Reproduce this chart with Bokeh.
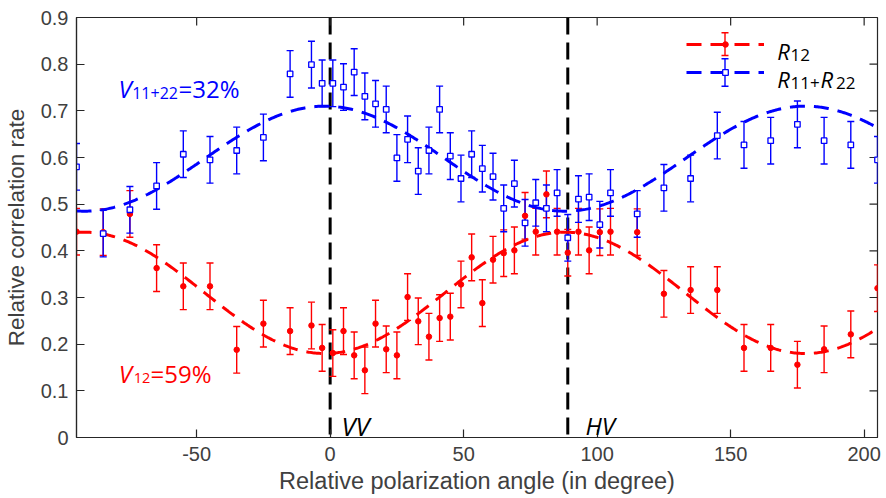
import numpy as np
from bokeh.plotting import figure
from bokeh.models import (ColumnDataSource, Range1d, FixedTicker, Whisker,
                          TeeHead, Span, Label, Legend, LegendItem, Arrow)
from bokeh.embed import file_html
from bokeh.resources import INLINE

# ---------------- data ----------------
angle = [-95, -85, -75, -65, -55, -45, -35, -25, -15,
         -7, -3, 1, 5, 9, 13, 17, 21, 25, 29, 33, 37, 41, 45, 49, 53, 57, 61,
         65, 69, 73, 77, 81, 85, 89, 93, 97, 101, 105,
         115, 125, 135, 145, 155, 165, 175, 185, 195, 205]

r12 = [0.441, 0.440, 0.479, 0.363, 0.324, 0.324, 0.188, 0.244, 0.228,
       0.240, 0.192, 0.181, 0.228, 0.176, 0.144, 0.244, 0.189, 0.176, 0.301,
       0.249, 0.216, 0.256, 0.259, 0.328, 0.386, 0.288, 0.381,
       0.395, 0.401, 0.475, 0.441, 0.521, 0.441, 0.396, 0.441, 0.401, 0.440, 0.441,
       0.440, 0.308, 0.316, 0.316, 0.192, 0.192, 0.156, 0.189, 0.221, 0.320]

r11_r22 = [0.580, 0.437, 0.488, 0.539, 0.607, 0.595, 0.615, 0.643, 0.779,
           0.799, 0.759, 0.759, 0.751, 0.783, 0.731, 0.715, 0.703, 0.599, 0.639,
           0.571, 0.615, 0.703, 0.603, 0.555, 0.607, 0.576, 0.559,
           0.491, 0.544, 0.460, 0.503, 0.491, 0.524, 0.428, 0.511, 0.515, 0.456, 0.524,
           0.479, 0.535, 0.555, 0.647, 0.627, 0.636, 0.671, 0.636, 0.627, 0.595]

err_r12 = 0.05
err_r11_r22 = 0.05

# fitted cosine curves: mean + amp * cos(2 (theta - phase))
r12_fit_mean, r12_fit_amp = 0.31, -0.13
r11_r22_fit_mean, r11_r22_fit_amp = 0.5975, 0.1125
fit_phase = -2.0

vv_angle = 0
hv_angle = 89

x_ticks = [-50, 0, 50, 100, 150, 200]
x_tick_labels = ["-50", "0", "50", "100", "150", "200"]
y_ticks = [0, 0.1, 0.2, 0.3, 0.4, 0.5, 0.6, 0.7, 0.8, 0.9]
y_tick_labels = ["0", "0.1", "0.2", "0.3", "0.4", "0.5", "0.6", "0.7", "0.8", "0.9"]

X0, X1 = -95, 205
Y0, Y1 = 0.0, 0.9

# ---------------- geometry / styling ----------------
W, H = 886, 498
FL, FT, FR, FB = 76, 17, 9, 61
FW, FH = W - FL - FR, H - FT - FB
AX_COL = "#262626"
LBL_COL = "#404040"
RED = "#ff0000"
BLUE = "#0000ff"
TICK_FONT = "Liberation Sans"
ANN_FONT = "Open Sans"
TICK_LEN = 8


def dx(px):
    return X0 + (px - FL) * (X1 - X0) / FW


def dy(py):
    return Y1 - (py - FT) * (Y1 - Y0) / FH


a = np.array(angle, dtype=float)
src = ColumnDataSource(dict(
    angle=a,
    r12=np.array(r12),
    r12_lo=np.array(r12) - err_r12,
    r12_hi=np.array(r12) + err_r12,
    rs=np.array(r11_r22),
    rs_lo=np.array(r11_r22) - err_r11_r22,
    rs_hi=np.array(r11_r22) + err_r11_r22,
))

fx = np.linspace(X0, X1, 601)
fit_src = ColumnDataSource(dict(
    x=fx,
    r12=r12_fit_mean + r12_fit_amp * np.cos(2 * np.radians(fx - fit_phase)),
    rs=r11_r22_fit_mean + r11_r22_fit_amp * np.cos(2 * np.radians(fx - fit_phase)),
))

p = figure(width=W, height=H,
           x_range=Range1d(X0, X1), y_range=Range1d(Y0, Y1),
           output_backend="svg", toolbar_location=None,
           min_border_left=FL, min_border_right=FR, min_border_top=FT, min_border_bottom=FB,
           background_fill_color="white", border_fill_color="white",
           outline_line_color=AX_COL, outline_line_width=1.2)
p.grid.visible = False


def style_axis(ax, ticks, overrides):
    ax.ticker = FixedTicker(ticks=ticks)
    ax.major_tick_in = TICK_LEN
    ax.major_tick_out = 0
    ax.minor_tick_in = 0
    ax.minor_tick_out = 0
    ax.axis_line_color = AX_COL
    ax.axis_line_width = 1.2
    ax.major_tick_line_color = AX_COL
    ax.major_tick_line_width = 1.2
    ax.major_label_overrides = overrides
    ax.major_label_text_font = TICK_FONT
    ax.major_label_text_font_size = "20px"
    ax.major_label_text_color = LBL_COL
    ax.axis_label_text_font = TICK_FONT
    ax.axis_label_text_font_style = "normal"
    ax.axis_label_text_color = LBL_COL


xa = p.xaxis[0]
style_axis(xa, x_ticks, dict(zip(x_ticks, x_tick_labels)))
xa.axis_label = "Relative polarization angle (in degree)"
xa.axis_label_text_font_size = "23.5px"
xa.major_label_standoff = 9
xa.axis_label_standoff = 4

ya = p.yaxis[0]
style_axis(ya, y_ticks, dict(zip(y_ticks, y_tick_labels)))
ya.axis_label = "Relative correlation rate"
ya.axis_label_text_font_size = "22.5px"
ya.major_label_standoff = 8
ya.axis_label_standoff = 9

# inward ticks on the top and right edges of the box (MATLAB "box on")
tly = TICK_LEN * (Y1 - Y0) / FH
tlx = TICK_LEN * (X1 - X0) / FW
nx, ny = len(x_ticks), len(y_ticks)
p.segment(x0=x_ticks, y0=[Y1] * nx, x1=x_ticks, y1=[Y1 - tly] * nx,
          line_color=AX_COL, line_width=1.2)
p.segment(x0=[X1] * ny, y0=y_ticks, x1=[X1 - tlx] * ny, y1=y_ticks,
          line_color=AX_COL, line_width=1.2)

# vertical reference lines
for ang in (vv_angle, hv_angle):
    p.add_layout(Span(location=ang, dimension="height", line_color="black",
                      line_width=3, line_dash="17 8", level="underlay"))

# error bars
for lo, hi, col in (("r12_lo", "r12_hi", RED), ("rs_lo", "rs_hi", BLUE)):
    p.add_layout(Whisker(base="angle", lower=lo, upper=hi, source=src,
                         line_color=col, line_width=1.4,
                         lower_head=TeeHead(size=7, line_color=col, line_width=1.4),
                         upper_head=TeeHead(size=7, line_color=col, line_width=1.4)))

red_fit = p.line("x", "r12", source=fit_src, line_color=RED, line_width=3, line_dash="15 9")
red_pts = p.scatter("angle", "r12", source=src, marker="circle", size=5.5,
                    fill_color=RED, line_color=RED)
blue_fit = p.line("x", "rs", source=fit_src, line_color=BLUE, line_width=3, line_dash="15 9")
blue_pts = p.scatter("angle", "rs", source=src, marker="square", size=5.5,
                     fill_color="white", line_color=BLUE, line_width=1.3)

# legend (samples) -- text added separately for subscripts
legend = Legend(items=[LegendItem(label=" ", renderers=[red_fit, red_pts]),
                       LegendItem(label=" ", renderers=[blue_fit, blue_pts])],
                location=(686 - FL, (H - FB) - 79), glyph_width=78, glyph_height=14, spacing=14,
                padding=0, margin=0, border_line_color=None, background_fill_alpha=0,
                label_text_font_size="1px", label_standoff=0, label_width=1, label_height=1)
p.add_layout(legend)

for (y0p, y1p, col) in ((32.3, 55.0, RED), (58.3, 85.7, BLUE)):
    p.add_layout(Arrow(x_start=dx(724.5), y_start=dy(y0p), x_end=dx(724.5), y_end=dy(y1p),
                       line_color=col, line_width=1.4,
                       start=TeeHead(size=7, line_color=col, line_width=1.4),
                       end=TeeHead(size=7, line_color=col, line_width=1.4)))


def txt(px, py, text, size, color, italic=False):
    p.add_layout(Label(x=dx(px), y=dy(py), text=text, text_font=ANN_FONT,
                       text_font_size=f"{size}px", text_color=color,
                       text_font_style="italic" if italic else "normal",
                       text_align="left", text_baseline="alphabetic"))


# legend texts
txt(776.7, 50.0, "R", 22, "black", True)
txt(790.0, 54.0, "12", 17, "black")
txt(776.7, 78.5, "R", 22, "black", True)
txt(790.0, 82.5, "11+", 17, "black")
txt(820.0, 78.5, "R", 22, "black", True)
txt(835.5, 82.5, "22", 17, "black")

# visibility annotations
txt(118.0, 87.7, "V", 24, BLUE, True)
txt(131.7, 92.7, "11+22", 16, BLUE)
txt(178.0, 87.7, "=32%", 24, BLUE)
txt(118.3, 372.7, "V", 24, RED, True)
txt(133.3, 377.7, "12", 14.5, RED)
txt(150.0, 372.7, "=59%", 24, RED)

# polarization configuration labels
txt(341.0, 425.0, "VV", 25.5, "black", True)
txt(585.0, 425.0, "HV", 24, "black", True)

open("out.html", "w").write(file_html(p, INLINE))
